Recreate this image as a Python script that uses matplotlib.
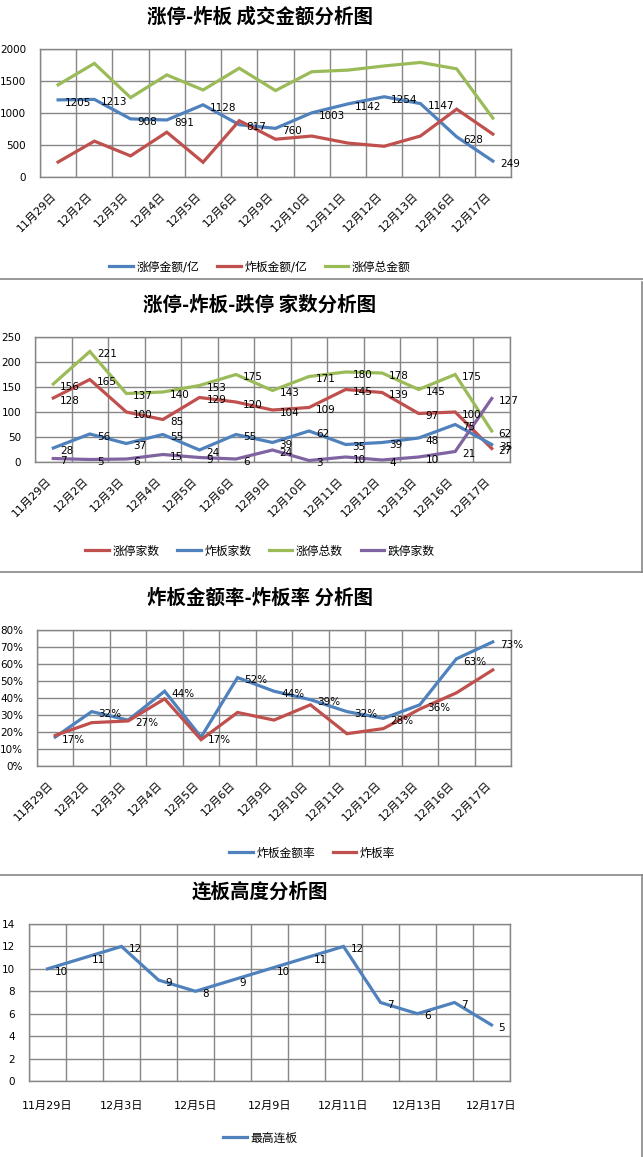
import matplotlib
matplotlib.use('Agg')
import matplotlib.pyplot as plt
from matplotlib.lines import Line2D
from matplotlib.ticker import FuncFormatter

plt.rcParams['font.family'] = ['DejaVu Sans', 'Noto Sans CJK SC']

W, H = 643, 1157

dates = ['11月29日', '12月2日', '12月3日', '12月4日', '12月5日', '12月6日', '12月9日',
         '12月10日', '12月11日', '12月12日', '12月13日', '12月16日', '12月17日']

# panel 1: amounts
zt_amount = [1205, 1213, 908, 891, 1128, 817, 760, 1003, 1142, 1254, 1147, 628, 249]
zb_amount = [234, 560, 330, 700, 230, 880, 590, 640, 530, 480, 640, 1060, 670]
zt_total_amount = [1440, 1775, 1240, 1595, 1360, 1700, 1350, 1645, 1670, 1735, 1790, 1690, 920]

# panel 2: counts
zt_count = [128, 165, 100, 85, 129, 120, 104, 109, 145, 139, 97, 100, 27]
zb_count = [28, 56, 37, 55, 24, 55, 39, 62, 35, 39, 48, 75, 35]
zt_total_count = [156, 221, 137, 140, 153, 175, 143, 171, 180, 178, 145, 175, 62]
dt_count = [7, 5, 6, 15, 9, 6, 24, 3, 10, 4, 10, 21, 127]

# panel 3: rates
zb_amount_rate = [0.17, 0.32, 0.27, 0.44, 0.17, 0.52, 0.44, 0.39, 0.32, 0.28, 0.36, 0.63, 0.73]
zb_rate = [0.18, 0.255, 0.265, 0.395, 0.155, 0.315, 0.27, 0.36, 0.19, 0.22, 0.335, 0.43, 0.565]

# panel 4: max consecutive boards
max_lb = [10, 11, 12, 9, 8, 9, 10, 11, 12, 7, 6, 7, 5]

BLUE = '#4F81BD'
RED = '#C0504D'
GREEN = '#9BBB59'
PURPLE = '#8064A2'
GRID = '#868686'
FS = 7.5


def px_rect(x0, y0, x1, y1):
    return [x0 / W, 1 - y1 / H, (x1 - x0) / W, (y1 - y0) / H]


def draw_panel(fig, rect, title, title_y, series, ylim, yticks, labeled,
               legend_x, legend_y, yfmt=None, label_fmt=str, rotate=True, every=1):
    ax = fig.add_axes(px_rect(*rect))
    n = len(dates)
    xs = list(range(n))
    handles = []
    for name, vals, color in series:
        h, = ax.plot(xs, vals, color=color, lw=2.3, solid_joinstyle='miter')
        handles.append(h)
    for vals in labeled:
        for x, v in zip(xs, vals):
            ax.annotate(label_fmt(v), (x, v), xytext=(5, -2), textcoords='offset points',
                        ha='left', va='center', fontsize=FS, color='black')
    ax.set_xlim(-0.5, n - 0.5)
    ax.set_ylim(*ylim)
    ax.set_yticks(yticks)
    if yfmt:
        ax.yaxis.set_major_formatter(FuncFormatter(yfmt))
    ax.set_xticks(xs[::every])
    if rotate:
        ax.set_xticklabels(dates[::every], rotation=45, ha='right', va='top',
                           rotation_mode='default')
        ax.tick_params(axis='x', pad=10, labelsize=FS + 0.5)
    else:
        ax.set_xticklabels(dates[::every])
        ax.tick_params(axis='x', pad=14, labelsize=FS + 0.5)
    ax.set_xticks([i - 0.5 for i in range(n + 1)], minor=True)
    ax.tick_params(which='both', length=0)
    ax.tick_params(axis='y', pad=10, labelsize=FS)
    ax.grid(True, which='minor', axis='x', color=GRID, lw=1)
    ax.grid(True, which='major', axis='y', color=GRID, lw=1)
    ax.set_axisbelow(True)
    for s in ax.spines.values():
        s.set_color(GRID)
        s.set_linewidth(1)
    fig.text(260 / W, 1 - title_y / H, title, ha='center', va='center', fontsize=14,
             fontweight='bold', family=['Noto Sans CJK SC'])
    fig.legend(handles, [s[0] for s in series], loc='center',
               bbox_to_anchor=(legend_x / W, 1 - legend_y / H), ncol=len(series),
               frameon=False, fontsize=FS + 1, handlelength=2.0, columnspacing=1.5,
               handletextpad=0.3)
    return ax


fig = plt.figure(figsize=(W / 100, H / 100), dpi=100)

draw_panel(fig, (40, 49, 511, 177), '涨停-炸板 成交金额分析图', 17,
           [('涨停金额/亿', zt_amount, BLUE), ('炸板金额/亿', zb_amount, RED),
            ('涨停总金额', zt_total_amount, GREEN)],
           (0, 2000), range(0, 2001, 500), [zt_amount], 260, 267)

draw_panel(fig, (35, 337, 510, 462), '涨停-炸板-跌停 家数分析图', 305,
           [('涨停家数', zt_count, RED), ('炸板家数', zb_count, BLUE),
            ('涨停总数', zt_total_count, GREEN), ('跌停家数', dt_count, PURPLE)],
           (0, 250), range(0, 251, 50), [zt_count, zb_count, zt_total_count, dt_count],
           260, 551)

draw_panel(fig, (37, 630, 511, 766), '炸板金额率-炸板率 分析图', 598,
           [('炸板金额率', zb_amount_rate, BLUE), ('炸板率', zb_rate, RED)],
           (0, 0.8), [i / 10 for i in range(9)], [zb_amount_rate], 312, 853,
           yfmt=lambda v, p: f'{v * 100:.0f}%', label_fmt=lambda v: f'{v * 100:.0f}%')

draw_panel(fig, (29, 924, 510, 1081), '连板高度分析图', 892,
           [('最高连板', max_lb, BLUE)],
           (0, 14), range(0, 15, 2), [max_lb], 260, 1138, rotate=False, every=2)

# separators between the stacked charts
for y in (279, 572, 875):
    fig.add_artist(Line2D([0, 1], [1 - y / H, 1 - y / H], color=GRID, lw=1.2))
fig.add_artist(Line2D([641.5 / W, 641.5 / W], [1 - 572 / H, 1 - 282 / H], color=GRID, lw=1.2))
fig.add_artist(Line2D([641.5 / W, 641.5 / W], [0, 1 - 875 / H], color=GRID, lw=1.2))

fig.savefig('out.png', dpi=100)
